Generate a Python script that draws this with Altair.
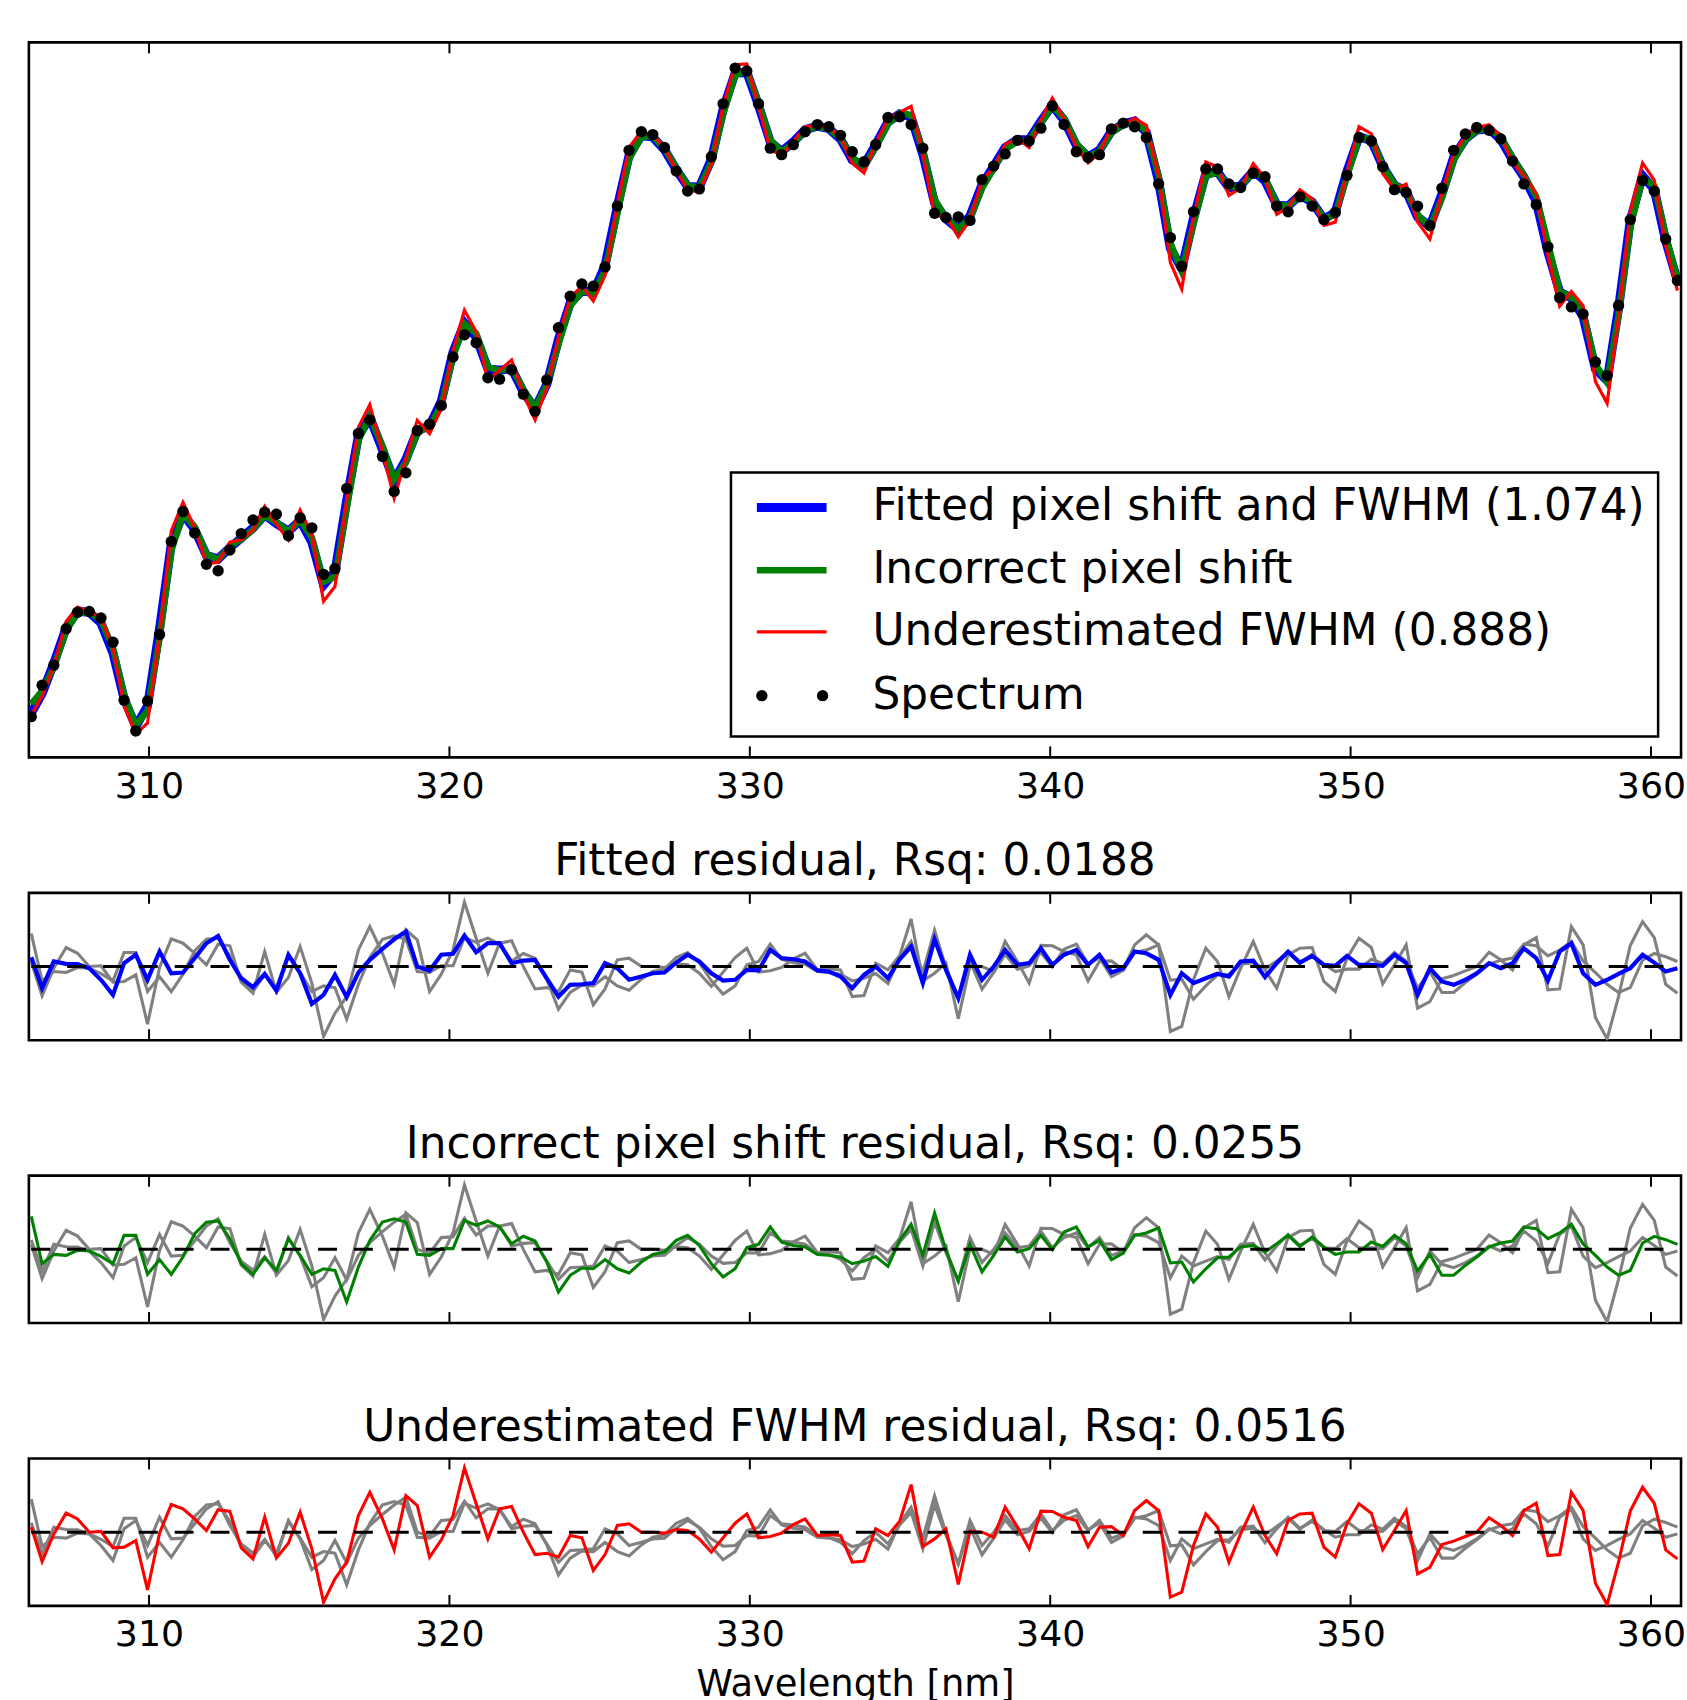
import altair as alt
import pandas as pd

# ---------------- data ----------------
wavelength = [
    306.08, 306.44, 306.83, 307.24, 307.62, 308.01, 308.40, 308.80, 309.17, 309.56,
    309.95, 310.35, 310.74, 311.13, 311.52, 311.91, 312.30, 312.69, 313.07, 313.46,
    313.85, 314.24, 314.64, 315.03, 315.42, 315.81, 316.19, 316.58, 316.97, 317.35,
    317.77, 318.16, 318.55, 318.93, 319.34, 319.73, 320.12, 320.50, 320.89, 321.28,
    321.67, 322.07, 322.46, 322.85, 323.24, 323.63, 324.02, 324.41, 324.79, 325.18,
    325.59, 325.98, 326.39, 326.77, 327.16, 327.55, 327.93, 328.32, 328.72, 329.11,
    329.51, 329.90, 330.29, 330.68, 331.06, 331.45, 331.84, 332.25, 332.63, 333.02,
    333.41, 333.80, 334.19, 334.60, 334.99, 335.37, 335.76, 336.15, 336.53, 336.94,
    337.33, 337.73, 338.12, 338.50, 338.91, 339.30, 339.69, 340.07, 340.46, 340.87,
    341.26, 341.64, 342.04, 342.43, 342.81, 343.20, 343.61, 344.00, 344.38, 344.77,
    345.18, 345.57, 345.95, 346.34, 346.76, 347.15, 347.54, 347.92, 348.31, 348.72,
    349.11, 349.49, 349.88, 350.28, 350.69, 351.07, 351.46, 351.85, 352.23, 352.64,
    353.04, 353.43, 353.82, 354.20, 354.61, 355.00, 355.39, 355.77, 356.18, 356.57,
    356.96, 357.35, 357.74, 358.15, 358.54, 358.92, 359.31, 359.72, 360.11, 360.49,
    360.88,
]

spectrum = [
    5.7, 10.1, 12.9, 18.0, 20.3, 20.4, 19.5, 16.1, 8.0, 3.7,
    7.9, 17.2, 30.2, 34.4, 31.4, 27.0, 26.1, 29.0, 31.3, 33.2,
    34.3, 34.0, 31.0, 33.5, 32.1, 25.6, 26.4, 37.6, 45.3, 47.2,
    42.1, 37.2, 39.8, 45.7, 46.6, 49.2, 56.0, 59.1, 58.0, 53.1,
    52.9, 54.2, 50.8, 48.4, 52.8, 60.1, 64.5, 66.2, 65.9, 68.6,
    77.1, 84.9, 87.5, 87.1, 85.3, 82.0, 79.2, 79.5, 84.0, 91.4,
    96.4, 96.0, 91.4, 85.2, 84.3, 85.7, 87.5, 88.5, 88.2, 87.0,
    84.7, 83.3, 85.7, 89.5, 89.6, 88.5, 85.2, 76.1, 75.5, 75.6,
    75.1, 80.8, 82.7, 84.4, 86.3, 86.2, 88.0, 91.1, 88.5, 84.7,
    83.9, 84.3, 87.9, 88.7, 88.2, 86.7, 80.2, 72.7, 68.7, 76.3,
    82.3, 82.3, 80.2, 79.7, 81.7, 81.2, 77.1, 76.3, 78.4, 77.1,
    75.2, 76.2, 81.4, 86.7, 86.2, 82.6, 79.4, 79.0, 77.1, 74.4,
    79.6, 84.9, 87.2, 88.1, 87.7, 86.5, 83.4, 80.2, 77.3, 71.4,
    64.3, 63.0, 62.0, 55.3, 53.4, 63.2, 75.2, 80.7, 79.2, 72.5,
    66.7,
]

# residual = model - spectrum (same units as the spectrum)
resid_fitted = [
    0.50, -1.16, 0.27, 0.14, 0.13, -0.09, -0.71, -1.52, 0.18, 0.63,
    -0.71, 0.80, -0.36, -0.32, 0.45, 1.25, 1.64, 0.36, -0.63, -1.11,
    -0.39, -1.29, 0.63, -0.36, -2.00, -1.52, -0.45, -1.64, -0.32, 0.36,
    0.95, 1.46, 1.88, 0.00, -0.21, 0.63, 0.68, 1.66, 0.77, 1.25,
    1.25, 0.18, 0.32, 0.36, -0.63, -1.61, -0.98, -0.95, -0.89, 0.18,
    -0.09, -0.71, -0.54, -0.36, -0.32, 0.21, 0.63, 0.27, -0.36, -0.75,
    -0.71, -0.18, -0.21, 0.89, 0.45, 0.39, 0.27, -0.21, -0.27, -0.54,
    -1.16, -0.45, 0.00, -0.63, 0.39, 1.07, -0.89, 1.46, -0.18, -1.70,
    0.63, -0.71, 0.00, 0.89, 0.09, 0.18, 0.98, 0.09, 0.63, 0.89,
    0.09, 0.63, -0.32, -0.09, 0.80, 0.71, 0.36, -1.52, -0.36, -0.89,
    -0.63, -0.39, -0.54, 0.27, 0.32, -0.57, 0.18, 0.80, 0.21, 0.57,
    0.09, 0.04, 0.57, 0.09, 0.09, 0.04, 0.63, 0.18, -1.52, -0.09,
    -0.80, -0.98, -0.71, -0.36, 0.18, -0.09, 0.18, 0.98, 0.45, -0.75,
    0.80, 1.25, -0.36, -0.98, -0.71, -0.39, -0.09, 0.63, 0.21, -0.27,
    -0.09,
]

resid_shift = [
    1.77, -0.77, -0.27, -0.32, -0.05, -0.09, -0.38, -0.77, 0.75, 0.75,
    -1.34, -0.55, -1.34, -0.41, 0.84, 1.46, 1.52, 0.57, -0.77, -1.34,
    -0.45, -1.13, 0.57, -0.32, -1.34, -1.04, -1.13, -2.82, -0.95, 0.48,
    1.46, 1.64, 1.46, -0.27, -0.32, 0.04, 0.04, 1.55, 1.29, 1.52,
    1.20, 0.30, 0.70, 0.45, -0.68, -2.29, -1.39, -1.00, -1.04, -0.55,
    -1.04, -1.27, -0.68, -0.27, -0.14, 0.48, 0.75, 0.21, -0.77, -1.48,
    -1.04, 0.09, 0.27, 1.20, 0.39, 0.21, 0.13, -0.27, -0.32, -0.41,
    -0.77, -0.63, -0.38, -0.91, 0.48, 1.34, -0.32, 1.95, -0.05, -1.70,
    0.27, -1.21, -0.32, 0.66, -0.14, 0.04, 0.75, -0.02, 0.93, 1.20,
    0.13, 0.48, -0.55, -0.20, 0.75, 0.88, 1.16, -0.73, -0.68, -1.75,
    -1.04, -0.45, -0.41, 0.13, 0.21, -0.14, 0.30, 0.75, 0.16, 0.66,
    0.13, -0.27, -0.14, -0.14, 0.39, 0.16, 0.75, 0.30, -1.16, -0.27,
    -1.39, -1.39, -0.86, -0.41, 0.13, 0.34, 0.45, 1.20, 1.11, 0.57,
    0.88, 1.34, 0.30, -0.32, -0.95, -1.39, -1.13, 0.34, 0.70, 0.52,
    0.27,
]

resid_fwhm = [
    0.27, -1.57, -0.09, 1.02, 0.71, 0.00, 0.04, -0.84, -0.80, -0.45,
    -3.09, -0.05, 1.48, 1.25, 0.71, 0.09, 1.20, 1.11, -0.84, -1.43,
    0.80, -1.38, -0.59, 1.07, -0.89, -3.75, -2.50, -1.61, 0.89, 2.14,
    0.71, -0.95, 1.96, 1.43, -1.34, -0.41, 0.89, 3.45, 1.52, -0.36,
    1.25, 1.38, 0.00, -1.20, -1.13, -1.34, -0.18, -0.30, -2.05, -1.20,
    0.36, 0.45, 0.00, 0.00, -0.05, 0.14, 0.09, -0.36, -1.07, -0.30,
    0.48, 0.98, -0.30, -0.23, -0.05, 0.41, 0.71, -0.18, -0.13, -0.18,
    -1.61, -1.55, 0.18, -0.18, 0.59, 2.55, -0.77, -0.36, 0.18, -2.80,
    0.05, 0.00, -0.27, 1.34, 0.27, -0.89, 1.13, 1.11, 0.80, 0.63,
    -0.77, 0.27, 0.30, -0.18, 1.16, 1.70, 1.16, -3.48, -3.21, -0.71,
    0.98, 0.27, -1.61, -0.09, 1.34, -0.18, -1.16, 0.63, 0.98, 1.02,
    -0.80, -1.34, 0.45, 1.52, 1.02, -0.93, 0.09, 1.16, -2.23, -1.88,
    -0.66, -0.48, -0.23, 0.00, 0.77, 0.36, -0.18, 1.16, 1.55, -1.25,
    -1.20, 2.14, 1.16, -2.73, -3.88, -1.61, 1.13, 2.41, 1.55, -0.95,
    -1.43,
]

x_ticks = [310, 320, 330, 340, 350, 360]
legend_labels = [
    "Fitted pixel shift and FWHM (1.074)",
    "Incorrect pixel shift",
    "Underestimated FWHM (0.888)",
    "Spectrum",
]
panel_titles = [
    "Fitted residual, Rsq: 0.0188",
    "Incorrect pixel shift residual, Rsq: 0.0255",
    "Underestimated FWHM residual, Rsq: 0.0516",
]
x_title = "Wavelength [nm]"

# ---------------- tables ----------------
df = pd.DataFrame({
    "wl": wavelength,
    "spectrum": spectrum,
    "r_fit": resid_fitted,
    "r_shift": resid_shift,
    "r_fwhm": resid_fwhm,
})
# model curves = spectrum + residual
df["m_fit"] = df["spectrum"] + df["r_fit"]
df["m_shift"] = df["spectrum"] + df["r_shift"]
df["m_fwhm"] = df["spectrum"] + df["r_fwhm"]

tick_df = pd.DataFrame({"tick": x_ticks})
zero_df = pd.DataFrame({"x0": [wavelength[0]], "x1": [wavelength[-1]], "zero": [0.0]})

# ---------------- styling ----------------
FONT = "DejaVu Sans"
W = 1659
H_TOP = 718
H_RES = 148
BLUE, GREEN, RED, GRAY = "#0000ff", "#008000", "#ff0000", "#808080"
BIG = 44

xscale = alt.Scale(domain=[306, 361], nice=False, zero=False)

axis_plain = alt.Axis(values=x_ticks, format="d", ticks=False, tickSize=0, domain=False,
                      grid=False, labelFontSize=36.5, labelFont=FONT, labelColor="black",
                      labelPadding=11, title=None)
axis_titled = alt.Axis(values=x_ticks, format="d", ticks=False, tickSize=0, domain=False,
                       grid=False, labelFontSize=36.5, labelFont=FONT, labelColor="black",
                       labelPadding=11, title=x_title, titleFont=FONT, titleFontSize=37,
                       titleFontWeight="normal", titleColor="black", titlePadding=13)


def xenc(field, axis):
    if axis is None:
        return alt.X(f"{field}:Q", scale=xscale, axis=None)
    return alt.X(f"{field}:Q", scale=xscale, axis=axis)


def tick_layers(h, axis):
    top = alt.Chart(tick_df).mark_rule(color="black", strokeWidth=2).encode(
        x=xenc("tick", axis), y=alt.value(0), y2=alt.value(11))
    bot = alt.Chart(tick_df).mark_rule(color="black", strokeWidth=2).encode(
        x=xenc("tick", axis), y=alt.value(h - 11), y2=alt.value(h))
    return [top, bot]


base = alt.Chart(df)

# ---------------- top panel ----------------
ytop = alt.Scale(domain=[0, 100], nice=False, zero=False)
line_fit = base.mark_line(color=BLUE, strokeWidth=9, clip=True).encode(
    x=xenc("wl", axis_plain), y=alt.Y("m_fit:Q", scale=ytop, axis=None))
line_shift = base.mark_line(color=GREEN, strokeWidth=6.5, clip=True).encode(
    x=xenc("wl", axis_plain), y=alt.Y("m_shift:Q", scale=ytop, axis=None))
line_fwhm = base.mark_line(color=RED, strokeWidth=3.2, clip=True).encode(
    x=xenc("wl", axis_plain), y=alt.Y("m_fwhm:Q", scale=ytop, axis=None))
dots = base.mark_circle(color="black", size=130, opacity=1, clip=True).encode(
    x=xenc("wl", axis_plain), y=alt.Y("spectrum:Q", scale=ytop, axis=None))

# legend (drawn by hand, positions in plot pixels)
one = pd.DataFrame({"k": [0]})
legend_layers = [
    alt.Chart(one).mark_rect(fill="white", stroke="black", strokeWidth=2.5).encode(
        x=alt.value(705), x2=alt.value(1636), y=alt.value(432), y2=alt.value(697))
]
row_y = [467, 530, 592, 656]
for col, sw, yy in zip([BLUE, GREEN, RED], [9, 6.5, 3.2], row_y[:3]):
    legend_layers.append(
        alt.Chart(one).mark_rule(color=col, strokeWidth=sw).encode(
            x=alt.value(731), x2=alt.value(801), y=alt.value(yy)))
for px in [736, 797]:
    legend_layers.append(
        alt.Chart(one).mark_circle(color="black", size=130, opacity=1).encode(
            x=alt.value(px), y=alt.value(row_y[3])))
for lab, yy in zip(legend_labels, row_y):
    legend_layers.append(
        alt.Chart(pd.DataFrame({"label": [lab]})).mark_text(
            align="left", baseline="middle", font=FONT, fontSize=BIG, color="black").encode(
            x=alt.value(847), y=alt.value(yy), text="label:N"))

top_panel = alt.layer(
    line_fit, line_shift, line_fwhm, dots, *tick_layers(H_TOP, axis_plain), *legend_layers
).properties(width=W, height=H_TOP)


# ---------------- residual panels ----------------
def resid_panel(title, field, color, width, grays, axis):
    yres = alt.Scale(domain=[-3.95, 3.95], nice=False, zero=False)
    layers = []
    for g in grays:
        layers.append(base.mark_line(color=GRAY, strokeWidth=3.1, clip=True).encode(
            x=xenc("wl", axis), y=alt.Y(f"{g}:Q", scale=yres, axis=None)))
    layers.append(base.mark_line(color=color, strokeWidth=width, clip=True).encode(
        x=xenc("wl", axis), y=alt.Y(f"{field}:Q", scale=yres, axis=None)))
    layers.append(alt.Chart(zero_df).mark_rule(color="black", strokeWidth=3,
                                               strokeDash=[19, 17]).encode(
        x=xenc("x0", axis), x2="x1:Q", y=alt.Y("zero:Q", scale=yres, axis=None)))
    layers += tick_layers(H_RES, axis)
    return alt.layer(*layers).properties(
        width=W, height=H_RES,
        title=alt.TitleParams(text=title, font=FONT, fontSize=BIG, fontWeight="normal",
                              color="black", anchor="middle", baseline="alphabetic",
                              offset=-27, frame="group"))


p1 = resid_panel(panel_titles[0], "r_fit", BLUE, 4.2, ["r_shift", "r_fwhm"], None)
p2 = resid_panel(panel_titles[1], "r_shift", GREEN, 3.1, ["r_fit", "r_fwhm"], None)
p3 = resid_panel(panel_titles[2], "r_fwhm", RED, 3.1, ["r_fit", "r_shift"], axis_titled)

chart = alt.vconcat(top_panel, p1, p2, p3, spacing=136, bounds="flush").properties(
    padding={"left": 27, "top": 36, "right": 0, "bottom": 0},
    background="white",
).configure_view(stroke="black", strokeWidth=2.6)

chart.save("out.html", embed_options={"renderer": "svg", "actions": False})
